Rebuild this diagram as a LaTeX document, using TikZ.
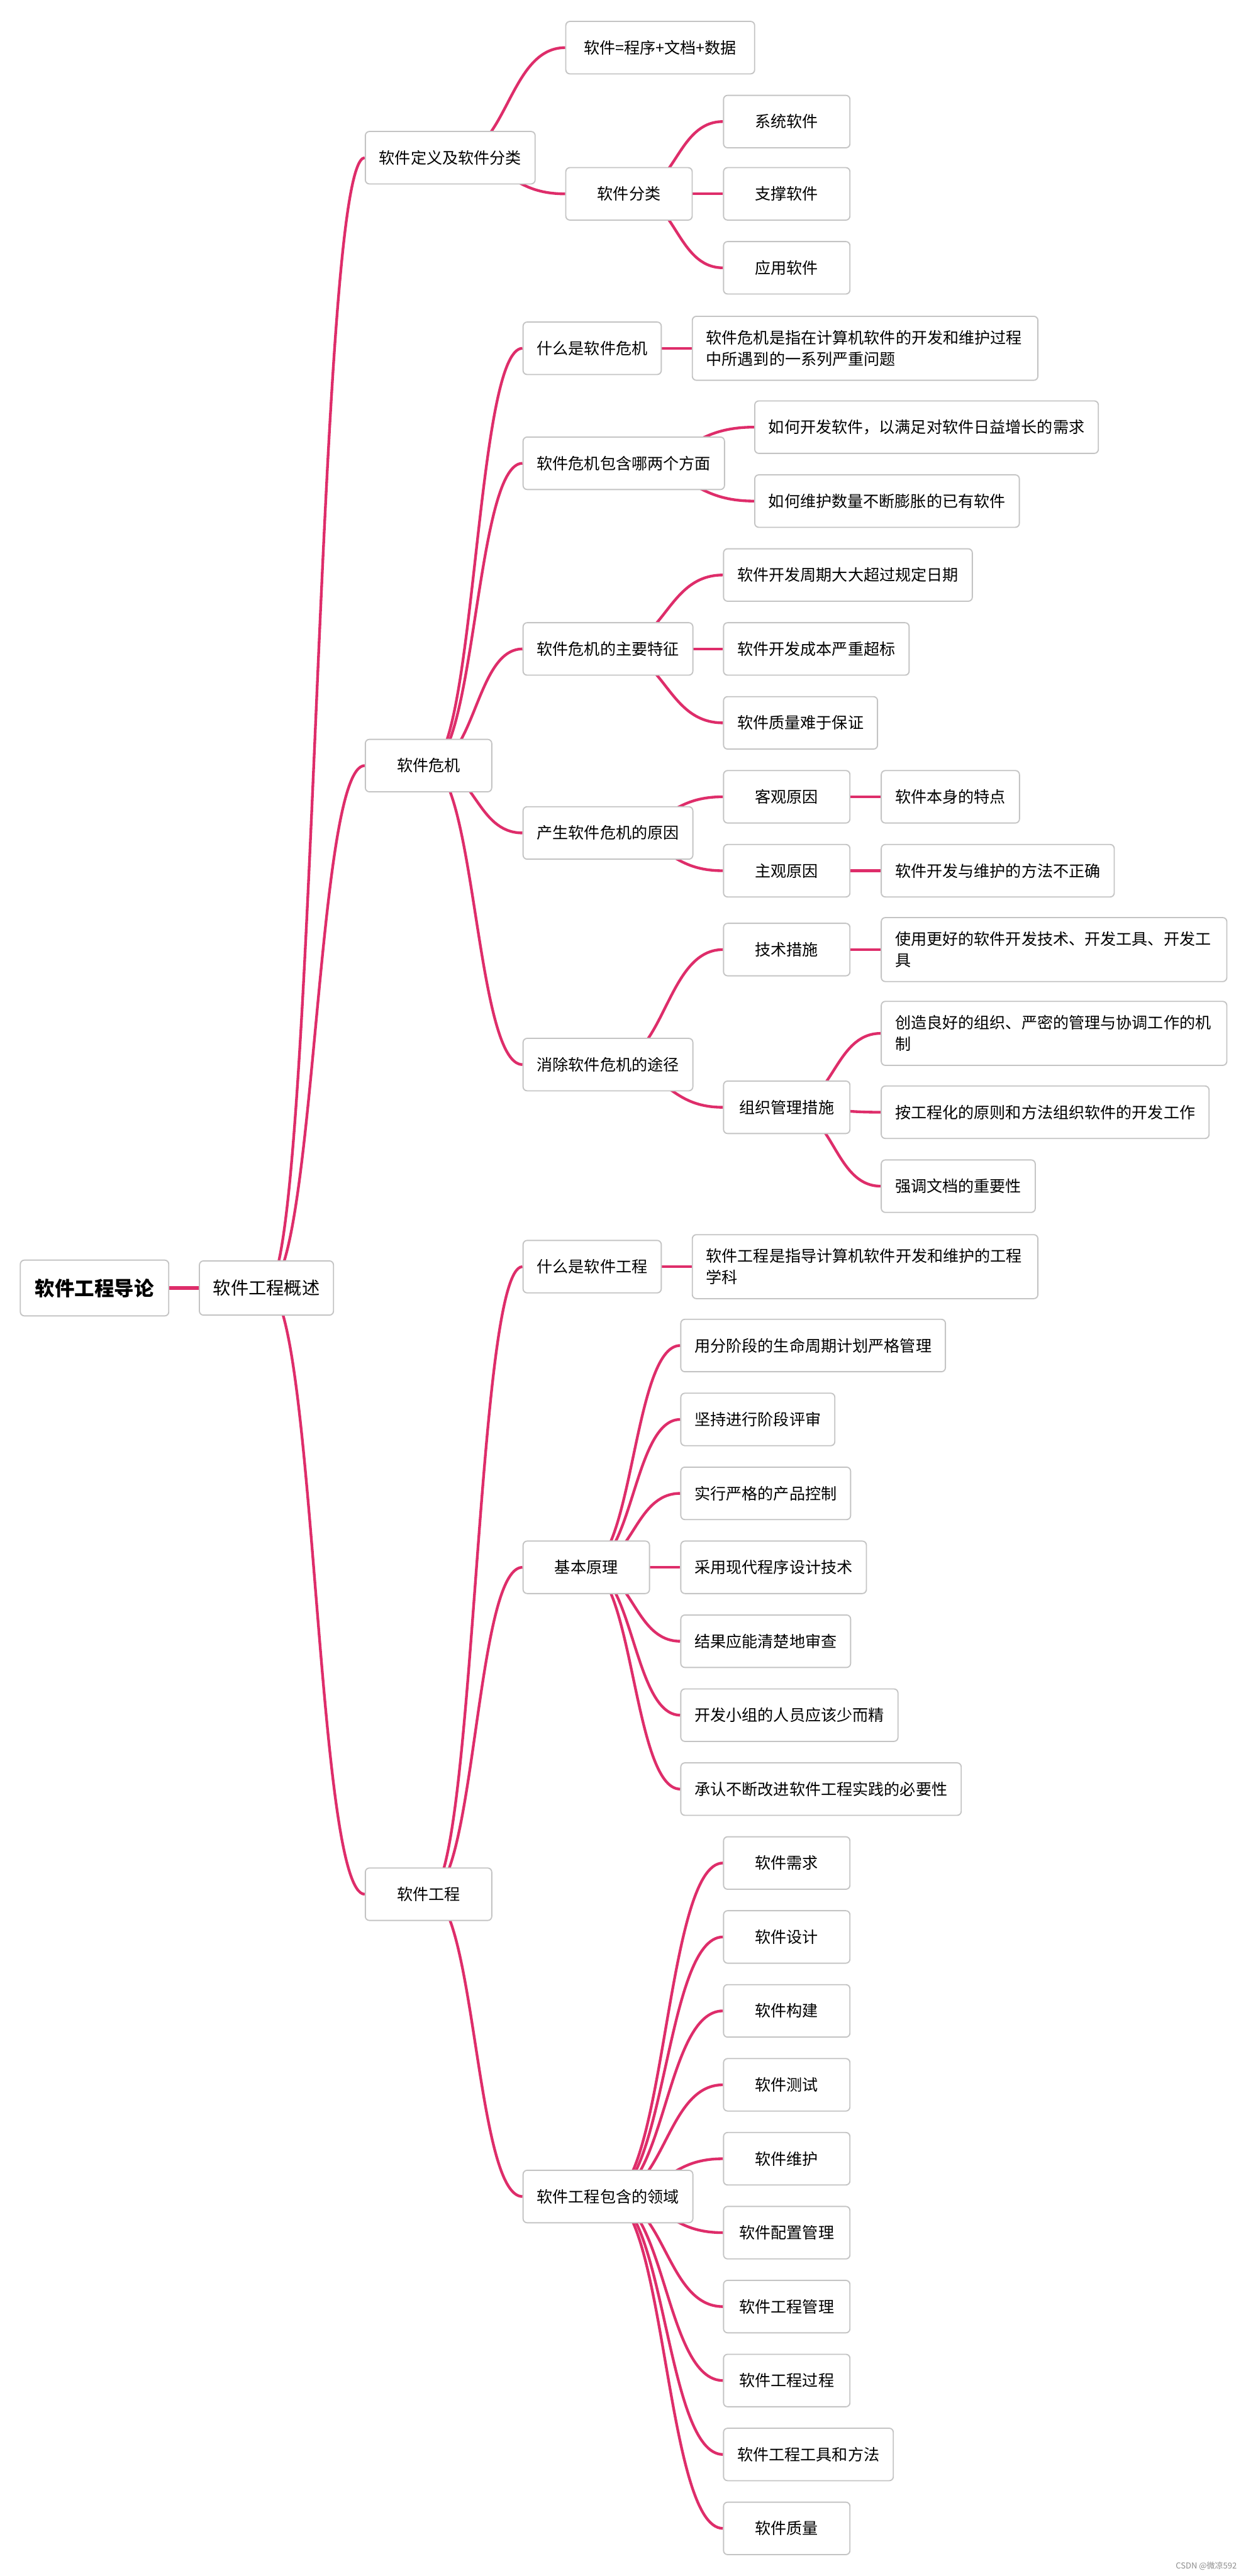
\documentclass[tikz,border=0pt]{standalone}
\usepackage{fontspec}
\setmainfont{Noto Sans CJK SC}
\usepackage{tikz}
\usetikzlibrary{calc,backgrounds}
\definecolor{mapline}{RGB}{222,45,106}
\definecolor{mapborder}{RGB}{196,196,196}
\tikzset{
  mtopic/.style={draw=mapborder, line width=0.6pt, rounded corners=2.1pt, fill=white, anchor=west, align=center, minimum width=64.8pt, minimum height=26.9pt, inner xsep=7.07pt, font=\fontsize{8.1pt}{10.95pt}\selectfont},
  mtwo/.style={mtopic, align=left, text width=163pt, minimum height=32.8pt, inner ysep=2pt},
  mmain/.style={mtopic, minimum height=27.8pt, font=\fontsize{9.1pt}{12pt}\selectfont},
  mroot/.style={mtopic, minimum height=28.6pt, inner xsep=7.6pt, font=\fontsize{10.15pt}{13pt}\selectfont\bfseries},
  mline/.style={draw=mapline, line width=1.4pt},
  mbar/.style={draw=mapline, line width=1.7pt},
  mmark/.style={anchor=east, inner sep=0pt, text=black!45, font=\fontsize{4.2pt}{5pt}\selectfont}
}
\newcommand{\mbranch}[2]{\draw[mline] let \p1=(#1.center), \p2=(#2.west) in (\p1) .. controls ({(\x1+\x2)/2},\y1) and ({(\x1+\x2)/2},\y2) .. (\p2);}

\begin{document}
\begin{tikzpicture}[x=0.0296cm,y=-0.0296cm]
\useasboundingbox (0,0) rectangle (758,1568);

\node[mroot] (root) at (12,784) {软件工程导论};
\node[mmain] (ov) at (121,784) {软件工程概述};

% software definition
\node[mtopic] (def) at (222,96) {软件定义及软件分类};
\node[mtopic, minimum width=96.8pt] (defeq) at (344,29) {软件=程序+文档+数据};
\node[mtopic] (defcls) at (344,118) {软件分类};
\node[mtopic] (clssys) at (440,74) {系统软件};
\node[mtopic] (clssup) at (440,118) {支撑软件};
\node[mtopic] (clsapp) at (440,163) {应用软件};

% software crisis
\node[mtopic] (cri) at (222,466) {软件危机};
\node[mtopic] (criwhat) at (318,212) {什么是软件危机};
\node[mtwo] (crides) at (421,212) {软件危机是指在计算机软件的开发和维护过程\\中所遇到的一系列严重问题};
\node[mtopic] (criasp) at (318,282) {软件危机包含哪两个方面};
\node[mtopic] (aspdev) at (459,260) {如何开发软件，以满足对软件日益增长的需求};
\node[mtopic] (aspmnt) at (459,305) {如何维护数量不断膨胀的已有软件};
\node[mtopic] (crifeat) at (318,395) {软件危机的主要特征};
\node[mtopic] (feattime) at (440,350) {软件开发周期大大超过规定日期};
\node[mtopic] (featcost) at (440,395) {软件开发成本严重超标};
\node[mtopic] (featqual) at (440,440) {软件质量难于保证};
\node[mtopic] (cricause) at (318,507) {产生软件危机的原因};
\node[mtopic] (causeobj) at (440,485) {客观原因};
\node[mtopic] (objself) at (536,485) {软件本身的特点};
\node[mtopic] (causesub) at (440,530) {主观原因};
\node[mtopic] (subway) at (536,530) {软件开发与维护的方法不正确};
\node[mtopic] (crifix) at (318,648) {消除软件危机的途径};
\node[mtopic] (fixtech) at (440,578) {技术措施};
\node[mtwo] (techuse) at (536,578) {使用更好的软件开发技术、开发工具、开发工\\具};
\node[mtopic] (fixorg) at (440,674) {组织管理措施};
\node[mtwo] (orgmech) at (536,629) {创造良好的组织、严密的管理与协调工作的机\\制};
\node[mtopic] (orgeng) at (536,677) {按工程化的原则和方法组织软件的开发工作};
\node[mtopic] (orgdoc) at (536,722) {强调文档的重要性};

% software engineering
\node[mtopic] (se) at (222,1153) {软件工程};
\node[mtopic] (sewhat) at (318,771) {什么是软件工程};
\node[mtwo] (sedes) at (421,771) {软件工程是指导计算机软件开发和维护的工程\\学科};
\node[mtopic] (seprin) at (318,954) {基本原理};
\node[mtopic] (prin1) at (414,819) {用分阶段的生命周期计划严格管理};
\node[mtopic] (prin2) at (414,864) {坚持进行阶段评审};
\node[mtopic] (prin3) at (414,909) {实行严格的产品控制};
\node[mtopic] (prin4) at (414,954) {采用现代程序设计技术};
\node[mtopic] (prin5) at (414,999) {结果应能清楚地审查};
\node[mtopic] (prin6) at (414,1044) {开发小组的人员应该少而精};
\node[mtopic] (prin7) at (414,1089) {承认不断改进软件工程实践的必要性};
\node[mtopic] (sefield) at (318,1337) {软件工程包含的领域};
\node[mtopic] (field1) at (440,1134) {软件需求};
\node[mtopic] (field2) at (440,1179) {软件设计};
\node[mtopic] (field3) at (440,1224) {软件构建};
\node[mtopic] (field4) at (440,1269) {软件测试};
\node[mtopic] (field5) at (440,1314) {软件维护};
\node[mtopic] (field6) at (440,1359) {软件配置管理};
\node[mtopic] (field7) at (440,1404) {软件工程管理};
\node[mtopic] (field8) at (440,1449) {软件工程过程};
\node[mtopic] (field9) at (440,1494) {软件工程工具和方法};
\node[mtopic] (field10) at (440,1539) {软件质量};

\node[mmark] (mark) at (753,1562) {CSDN @微凉592};

\begin{scope}[on background layer]
\draw[mbar] (root.center) -- (ov.west);
\mbranch{ov}{def}
\mbranch{ov}{cri}
\mbranch{ov}{se}
\mbranch{def}{defeq}
\mbranch{def}{defcls}
\mbranch{defcls}{clssys}
\mbranch{defcls}{clssup}
\mbranch{defcls}{clsapp}
\mbranch{cri}{criwhat}
\mbranch{cri}{criasp}
\mbranch{cri}{crifeat}
\mbranch{cri}{cricause}
\mbranch{cri}{crifix}
\mbranch{criwhat}{crides}
\mbranch{criasp}{aspdev}
\mbranch{criasp}{aspmnt}
\mbranch{crifeat}{feattime}
\mbranch{crifeat}{featcost}
\mbranch{crifeat}{featqual}
\mbranch{cricause}{causeobj}
\mbranch{cricause}{causesub}
\mbranch{causeobj}{objself}
\mbranch{causesub}{subway}
\mbranch{crifix}{fixtech}
\mbranch{crifix}{fixorg}
\mbranch{fixtech}{techuse}
\mbranch{fixorg}{orgmech}
\mbranch{fixorg}{orgeng}
\mbranch{fixorg}{orgdoc}
\mbranch{se}{sewhat}
\mbranch{se}{seprin}
\mbranch{se}{sefield}
\mbranch{sewhat}{sedes}
\mbranch{seprin}{prin1}
\mbranch{seprin}{prin2}
\mbranch{seprin}{prin3}
\mbranch{seprin}{prin4}
\mbranch{seprin}{prin5}
\mbranch{seprin}{prin6}
\mbranch{seprin}{prin7}
\mbranch{sefield}{field1}
\mbranch{sefield}{field2}
\mbranch{sefield}{field3}
\mbranch{sefield}{field4}
\mbranch{sefield}{field5}
\mbranch{sefield}{field6}
\mbranch{sefield}{field7}
\mbranch{sefield}{field8}
\mbranch{sefield}{field9}
\mbranch{sefield}{field10}
\end{scope}
\end{tikzpicture}
\end{document}
